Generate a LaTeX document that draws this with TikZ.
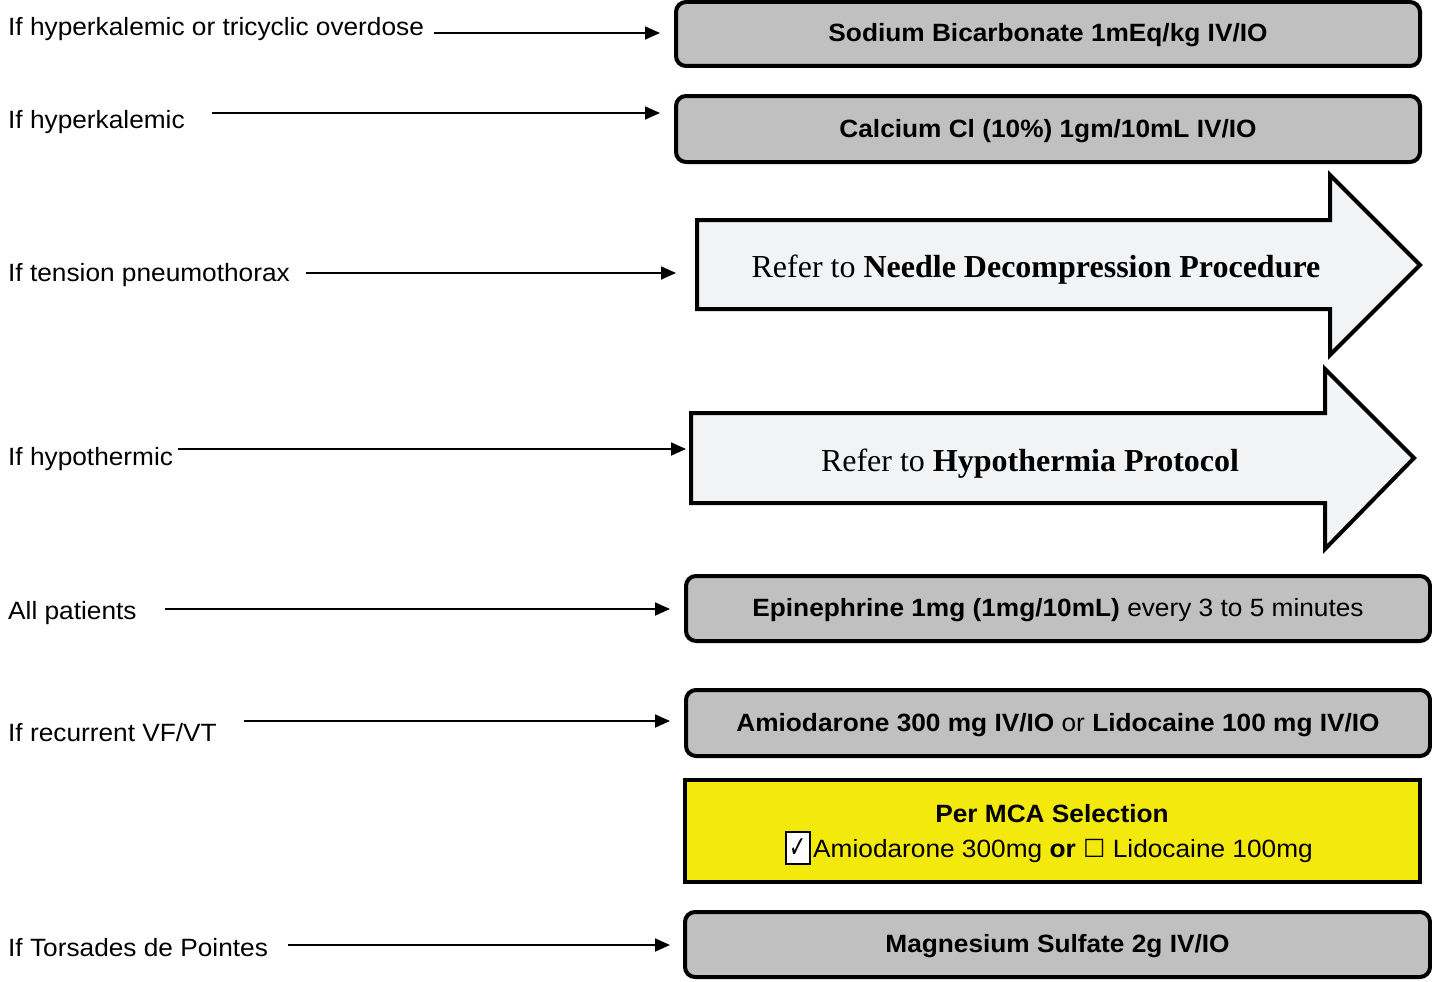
\documentclass[tikz,border=0pt]{standalone}
\usepackage{fontspec}
\usepackage{graphicx}
\setmainfont[FakeStretch=1.05]{Liberation Sans}
\newfontfamily\refserif{Liberation Serif}
\newfontfamily\symfont{DejaVu Sans}
\usetikzlibrary{arrows.meta}
\definecolor{boxgray}{RGB}{192,192,192}
\definecolor{arrowfill}{RGB}{242,243,245}
\definecolor{mcayellow}{RGB}{243,233,12}
\tikzset{
  lbl/.style={anchor=base west, inner sep=0pt, font=\fontsize{25}{29}\selectfont},
  medbox/.style={draw=black, line width=4pt, rounded corners=10pt, fill=boxgray,
    minimum width=744pt, minimum height=64pt, inner sep=0pt, text height=21pt, text depth=5pt,
    font=\fontsize{25}{29}\selectfont},
  selbox/.style={draw=black, line width=4pt, fill=mcayellow, minimum width=735pt,
    minimum height=102pt, inner sep=0pt},
  seltext/.style={inner sep=0pt, font=\fontsize{25}{29}\selectfont},
  chkbox/.style={draw=black, line width=2pt, fill=white, minimum width=24pt, minimum height=32pt,
    inner sep=0pt, font=\symfont\fontsize{24}{28}\selectfont},
  con/.style={line width=1.8pt, -{Triangle[length=15pt,width=13pt]}},
  bigarrow/.style={draw=black, line width=4pt, fill=arrowfill, line join=miter},
  reftext/.style={font=\refserif\fontsize{32}{36}\selectfont, inner sep=0pt},
}
\begin{document}
\begin{tikzpicture}[x=1pt,y=-1pt]
\useasboundingbox (0,0) rectangle (1432,982);
\fill[white] (0,0) rectangle (1432,982);

% right-hand boxes
\node[medbox] (b1) at (1048,34) {\bfseries Sodium Bicarbonate 1mEq/kg IV/IO};
\node[medbox, minimum height=66pt] (b2) at (1048,129) {\bfseries Calcium Cl (10\%) 1gm/10mL IV/IO};
\node[medbox, minimum height=65pt] (b5) at (1058,608.5) {\textbf{Epinephrine 1mg (1mg/10mL)} every 3 to 5 minutes};
\node[medbox, minimum height=66pt] (b6) at (1058,723) {\textbf{Amiodarone 300 mg IV/IO} or \textbf{Lidocaine 100 mg IV/IO}};
\node[selbox] (sel) at (1052.5,831) {};
\node[seltext, anchor=base] (selhead) at (1052,822) {\textbf{Per MCA Selection}};
\node[chkbox] (chk) at (798,848) {\scalebox{0.85}[1.25]{✓}};
\node[seltext, anchor=base west] (seltxt) at (813,857) {Amiodarone 300mg \textbf{or} {\symfont ☐} Lidocaine 100mg};
\node[medbox, minimum width=745pt, minimum height=65pt] (b7) at (1057.5,944.5) {\bfseries Magnesium Sulfate 2g IV/IO};

% big arrows
\draw[bigarrow] (697,220) -- (1330,220) -- (1330,175) -- (1420,265) -- (1330,355) -- (1330,309) -- (697,309) -- cycle;
\node[reftext] (r1) at (1036,270) {Refer to \textbf{Needle Decompression Procedure}};
\draw[bigarrow] (691,413) -- (1325,413) -- (1325,369) -- (1414,458) -- (1325,549) -- (1325,503) -- (691,503) -- cycle;
\node[reftext] (r2) at (1030,464) {Refer to \textbf{Hypothermia Protocol}};

% labels
\node[lbl] (l1) at (8,36) {If hyperkalemic or tricyclic overdose};
\node[lbl] (l2) at (8,128) {If hyperkalemic};
\node[lbl] (l3) at (8,281) {If tension pneumothorax};
\node[lbl] (l4) at (8,465) {If hypothermic};
\node[lbl] (l5) at (8,619) {All patients};
\node[lbl] (l6) at (8,741) {If recurrent VF/VT};
\node[lbl] (l7) at (8,956) {If Torsades de Pointes};

% connector ends
\coordinate (e1) at (660,33);
\coordinate (e2) at (660,113);
\coordinate (e3) at (676,273);
\coordinate (e4) at (686,449);
\coordinate (e5) at (670,609);
\coordinate (e6) at (670,721);
\coordinate (e7) at (670,945);

\draw[con, shorten <=10pt] (l1.east |- e1) -- (e1);
\draw[con, shorten <=27pt] (l2.east |- e2) -- (e2);
\draw[con, shorten <=16pt] (l3.east |- e3) -- (e3);
\draw[con, shorten <=5pt] (l4.east |- e4) -- (e4);
\draw[con, shorten <=28pt] (l5.east |- e5) -- (e5);
\draw[con, shorten <=27pt] (l6.east |- e6) -- (e6);
\draw[con, shorten <=20pt] (l7.east |- e7) -- (e7);
\end{tikzpicture}
\end{document}
